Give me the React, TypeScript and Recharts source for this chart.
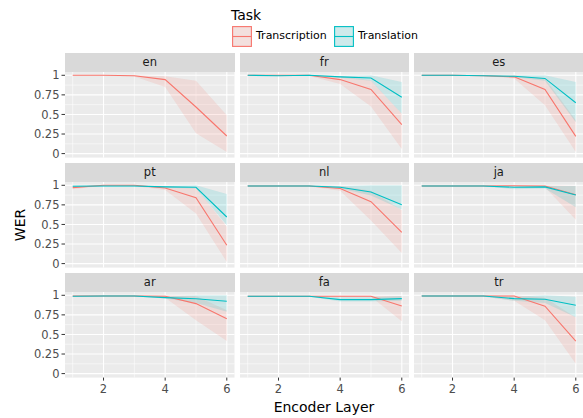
import { ComposedChart, Area, Line, XAxis, YAxis, CartesianGrid } from 'recharts';

// Encoder layer 1..6, values are [mean, low, high]
const layers = [1, 2, 3, 4, 5, 6];
const facets = ['en', 'fr', 'es', 'pt', 'nl', 'ja', 'ar', 'fa', 'tr'];
const xTicks = [2, 4, 6];
const xMinor = [1, 3, 5];
const yTicks = [0, 0.25, 0.5, 0.75, 1];
const yMinor = [0.125, 0.375, 0.625, 0.875];

const en_transcription = [[1.0, 0.995, 1.0], [1.0, 0.995, 1.0], [0.995, 0.985, 1.0], [0.945, 0.85, 0.987], [0.595, 0.26, 0.93], [0.225, 0.02, 0.49]];
const fr_transcription = [[1.0, 0.995, 1.0], [1.0, 0.995, 1.0], [1.0, 0.99, 1.0], [0.945, 0.89, 0.99], [0.82, 0.6, 0.935], [0.37, 0.06, 0.51]];
const fr_translation = [[1.0, 0.995, 1.0], [0.995, 0.99, 1.0], [1.0, 0.995, 1.0], [0.98, 0.97, 0.99], [0.966, 0.93, 1.0], [0.72, 0.51, 0.915]];
const es_transcription = [[1.0, 0.995, 1.0], [1.0, 0.995, 1.0], [0.995, 0.99, 1.0], [0.98, 0.96, 1.0], [0.82, 0.617, 0.96], [0.22, 0.02, 0.425]];
const es_translation = [[1.0, 0.995, 1.0], [1.0, 0.995, 1.0], [0.995, 0.99, 1.0], [0.987, 0.975, 1.0], [0.96, 0.93, 1.0], [0.65, 0.4, 0.915]];
const pt_transcription = [[0.97, 0.95, 0.99], [1.0, 0.995, 1.0], [1.0, 0.99, 1.0], [0.966, 0.94, 0.99], [0.84, 0.64, 0.97], [0.234, 0.02, 0.47]];
const pt_translation = [[0.987, 0.975, 1.0], [0.99, 0.98, 1.0], [0.99, 0.98, 1.0], [0.98, 0.97, 0.99], [0.975, 0.96, 1.0], [0.595, 0.49, 0.89]];
const nl_transcription = [[0.99, 0.985, 1.0], [0.99, 0.985, 1.0], [0.99, 0.985, 1.0], [0.96, 0.93, 0.99], [0.79, 0.55, 0.93], [0.4, 0.135, 0.68]];
const nl_translation = [[0.99, 0.985, 1.0], [0.99, 0.985, 1.0], [0.99, 0.985, 1.0], [0.975, 0.96, 0.99], [0.915, 0.87, 1.0], [0.75, 0.69, 1.0]];
const ja_transcription = [[0.99, 0.985, 1.0], [0.99, 0.985, 1.0], [0.99, 0.985, 1.0], [0.995, 0.985, 1.0], [0.99, 0.975, 1.0], [0.88, 0.56, 0.99]];
const ja_translation = [[0.99, 0.985, 1.0], [0.99, 0.985, 1.0], [0.99, 0.985, 1.0], [0.975, 0.95, 0.99], [0.98, 0.96, 0.99], [0.876, 0.72, 0.99]];
const ar_transcription = [[0.99, 0.985, 1.0], [0.99, 0.985, 1.0], [0.99, 0.985, 1.0], [0.987, 0.97, 1.0], [0.894, 0.68, 0.99], [0.7, 0.416, 0.81]];
const ar_translation = [[0.987, 0.98, 0.995], [0.99, 0.985, 1.0], [0.99, 0.985, 1.0], [0.97, 0.96, 0.985], [0.955, 0.9, 1.0], [0.923, 0.79, 1.0]];
const fa_transcription = [[0.987, 0.98, 0.995], [0.987, 0.98, 0.995], [0.987, 0.98, 0.995], [0.987, 0.98, 0.995], [0.987, 0.98, 0.995], [0.864, 0.67, 0.99]];
const fa_translation = [[0.987, 0.98, 0.995], [0.987, 0.98, 0.995], [0.987, 0.98, 0.995], [0.945, 0.92, 0.975], [0.945, 0.92, 0.975], [0.957, 0.93, 0.99]];
const tr_transcription = [[0.99, 0.985, 1.0], [0.99, 0.985, 1.0], [0.99, 0.985, 1.0], [0.99, 0.93, 1.0], [0.86, 0.68, 0.97], [0.416, 0.127, 0.715]];
const tr_translation = [[0.99, 0.985, 1.0], [0.99, 0.985, 1.0], [0.99, 0.985, 1.0], [0.957, 0.93, 0.98], [0.95, 0.9, 1.0], [0.872, 0.72, 0.98]];

const transcriptionByFacet: Record<string, number[][]> = {
  en: en_transcription, fr: fr_transcription, es: es_transcription,
  pt: pt_transcription, nl: nl_transcription, ja: ja_transcription,
  ar: ar_transcription, fa: fa_transcription, tr: tr_transcription,
};
const translationByFacet: Record<string, number[][] | null> = {
  en: null, fr: fr_translation, es: es_translation,
  pt: pt_translation, nl: nl_translation, ja: ja_translation,
  ar: ar_translation, fa: fa_translation, tr: tr_translation,
};

const RED = '#F8766D';
const TEAL = '#00BFC4';
const FONT = '"DejaVu Sans", sans-serif';

const colX = [65, 239.5, 414];
const rowY = [71.7, 181.7, 291.7];
const panelW = 169.5;
const panelH = 85.6;
const stripH = 18.4;
const yAxisW = 45;
const xAxisH = 26;
const pad = 8; // room so edge tick labels are not clipped

const buildRows = (facet: string) => {
  const tc = transcriptionByFacet[facet];
  const tl = translationByFacet[facet];
  return layers.map((layer, i) => ({
    layer,
    tc: tc[i][0],
    tcBand: [tc[i][1], tc[i][2]],
    tl: tl ? tl[i][0] : null,
    tlBand: tl ? [tl[i][1], tl[i][2]] : null,
  }));
};

const Facet = ({ facet, index }: { facet: string; index: number }) => {
  const col = index % 3;
  const row = Math.floor(index / 3);
  const isLeft = col === 0;
  const isBottom = row === 2;
  const hasTl = translationByFacet[facet] !== null;
  const data = buildRows(facet);
  const w = panelW + (isLeft ? yAxisW : 0);
  const bottomPad = isBottom ? 0 : pad;
  const h = pad + panelH + (isBottom ? xAxisH : bottomPad);
  const tickStyle = { fill: '#4D4D4D', fontSize: 11.5, fontFamily: FONT };

  return (
    <>
      <div
        style={{
          position: 'absolute',
          left: colX[col],
          top: rowY[row] - stripH,
          width: panelW,
          height: stripH,
          background: '#D9D9D9',
          color: '#1A1A1A',
          fontSize: 11.5,
          fontFamily: FONT,
          lineHeight: `${stripH}px`,
          textAlign: 'center',
          zIndex: 1,
        }}
      >
        {facet}
      </div>
      <div style={{ position: 'absolute', left: colX[col] - (isLeft ? yAxisW : 0), top: rowY[row] - pad }}>
        <ComposedChart width={w} height={h} data={data} margin={{ top: pad, right: 0, bottom: bottomPad, left: 0 }}>
          <CartesianGrid fill="#EBEBEB" stroke="#FFFFFF" strokeWidth={0.55} horizontalValues={yMinor} verticalValues={xMinor} />
          <CartesianGrid stroke="#FFFFFF" strokeWidth={1.1} horizontalValues={yTicks} verticalValues={xTicks} />
          <XAxis
            type="number"
            dataKey="layer"
            domain={[0.75, 6.25]}
            ticks={xTicks}
            interval={0}
            hide={!isBottom}
            height={xAxisH}
            axisLine={false}
            tickLine={{ stroke: '#333333' }}
            tickSize={3}
            tickMargin={4.5}
            tick={tickStyle}
            allowDataOverflow
          />
          <YAxis
            type="number"
            domain={[-0.051, 1.042]}
            ticks={yTicks}
            interval={0}
            hide={!isLeft}
            width={yAxisW}
            axisLine={false}
            tickLine={{ stroke: '#333333' }}
            tickSize={3.5}
            tickMargin={2}
            tick={tickStyle}
            allowDataOverflow
          />
          <Area dataKey="tcBand" stroke="none" fill={RED} fillOpacity={0.15} isAnimationActive={false} />
          {hasTl && <Area dataKey="tlBand" stroke="none" fill={TEAL} fillOpacity={0.15} isAnimationActive={false} />}
          <Line dataKey="tc" stroke={RED} strokeWidth={1.1} dot={false} isAnimationActive={false} />
          {hasTl && <Line dataKey="tl" stroke={TEAL} strokeWidth={1.1} dot={false} isAnimationActive={false} />}
        </ComposedChart>
      </div>
    </>
  );
};

const LegendKey = ({ color }: { color: string }) => (
  <svg width={20} height={21} style={{ display: 'block' }}>
    <rect x={0} y={0} width={20} height={21} fill="#F2F2F2" />
    <rect x={0.6} y={0.6} width={18.8} height={19.8} fill={color} fillOpacity={0.15} stroke={color} strokeWidth={1.1} />
    <line x1={0.6} x2={19.4} y1={10.5} y2={10.5} stroke={color} strokeWidth={1.1} />
  </svg>
);

export default function App() {
  return (
    <div style={{ position: 'absolute', left: 0, top: 0, width: 583, height: 418, background: '#FFFFFF', fontFamily: FONT }}>
      <div style={{ position: 'absolute', left: 231, top: 7, fontSize: 14, color: '#000' }}>Task</div>
      <div style={{ position: 'absolute', left: 232, top: 26 }}>
        <LegendKey color={RED} />
      </div>
      <div style={{ position: 'absolute', left: 256, top: 29, fontSize: 11, color: '#000' }}>Transcription</div>
      <div style={{ position: 'absolute', left: 334, top: 26 }}>
        <LegendKey color={TEAL} />
      </div>
      <div style={{ position: 'absolute', left: 358, top: 29, fontSize: 11, color: '#000' }}>Translation</div>

      {facets.map((f, i) => (
        <Facet key={f} facet={f} index={i} />
      ))}

      <div style={{ position: 'absolute', left: 65, width: 518, top: 399, textAlign: 'center', fontSize: 14, color: '#000' }}>
        Encoder Layer
      </div>
      <div
        style={{
          position: 'absolute',
          left: 20,
          top: 224.5,
          fontSize: 14,
          color: '#000',
          transform: 'translate(-50%, -50%) rotate(-90deg)',
        }}
      >
        WER
      </div>
    </div>
  );
}
